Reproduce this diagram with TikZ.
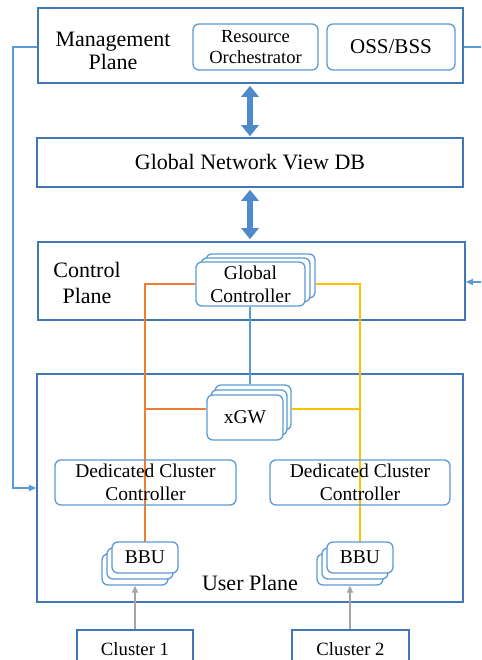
\documentclass[tikz,border=0pt]{standalone}
\usepackage{fontspec}
\setmainfont{Liberation Serif}
\usetikzlibrary{arrows.meta,calc}
\definecolor{planeblue}{HTML}{4177B5}
\definecolor{boxblue}{HTML}{5B9BD5}
\definecolor{linkblue}{HTML}{5B9BD5}
\definecolor{arrowfill}{HTML}{4F8BCB}
\definecolor{linkorange}{HTML}{ED7D31}
\definecolor{linkyellow}{HTML}{FFC000}
\definecolor{linkgrey}{HTML}{A5A5A5}
\tikzset{
  plane/.style={draw=planeblue, line width=1.6pt, fill=white, rectangle, inner sep=0pt},
  rbox/.style={draw=boxblue, line width=1.3pt, fill=white, rectangle, rounded corners=6pt, inner sep=0pt, align=center},
  big/.style={font=\fontsize{22}{23}\selectfont},
  mid/.style={font=\fontsize{19.5}{23}\selectfont},
  small/.style={font=\fontsize{18.5}{21}\selectfont},
  wire/.style={line width=1.3pt},
  bigarrow/.style={draw=arrowfill, line width=6.5pt,
    {Triangle[length=11pt,width=17pt]}-{Triangle[length=11pt,width=17pt]}},
  feed/.style={draw=linkblue, line width=1.3pt, -{Triangle[length=7pt,width=6pt]}},
  upin/.style={draw=linkgrey, line width=1.3pt, -{Triangle[length=7pt,width=6pt]}},
}
\begin{document}
\begin{tikzpicture}[x=1pt, y=-1pt]
\clip (0,0) rectangle (481,660);
\fill[white] (0,0) rectangle (481,660);

% ---- management plane ----
\node[plane, minimum width=425pt, minimum height=75pt] (mgmt) at (250.5,45.5) {};
\node[big, align=center] (mgmtlbl) at (113,51) {Management\\Plane};
\node[rbox, small, minimum width=125pt, minimum height=46pt] (orch) at (255.5,47) {Resource\\Orchestrator};
\node[rbox, big, font=\fontsize{21}{23}\selectfont, minimum width=128pt, minimum height=46pt] (oss) at (391,47) {OSS/BSS};

% ---- global network view database ----
\node[plane, big, minimum width=426pt, minimum height=49pt] (db) at (250,162.5) {Global Network View DB};

% ---- control plane ----
\node[plane, minimum width=427pt, minimum height=78pt] (ctrl) at (251.5,281) {};
\node[big, align=center, font=\fontsize{22}{26}\selectfont] (ctrllbl) at (87,283) {Control\\Plane};

% ---- user plane ----
\node[plane, minimum width=426pt, minimum height=228pt] (user) at (250,488) {};
\node[big] (userlbl) at (250,583) {User Plane};

% ---- stacked global controllers ----
\node[rbox, minimum width=109pt, minimum height=44pt] (gc3) at (260.5,276) {};
\node[rbox, minimum width=109pt, minimum height=44pt] (gc2) at (255.5,280) {};
\node[rbox, mid, minimum width=109pt, minimum height=44pt] (gc) at (250.5,284) {Global\\Controller};

% ---- stacked gateways ----
\node[rbox, minimum width=76pt, minimum height=45pt] (gw3) at (253,407.5) {};
\node[rbox, minimum width=76pt, minimum height=45pt] (gw2) at (249,412.5) {};
\node[rbox, mid, minimum width=76pt, minimum height=45pt] (gw) at (245,417.5) {xGW};

% ---- links from the global controller ----
\draw[wire, linkorange] (gc.west) -- (145,284) coordinate (ol) -- (145,542) coordinate (ob);
\draw[wire, linkorange] (145,409) -- (gw.west |- 0,409);
\draw[wire, linkyellow] (gc3.east |- gc.east) -- (360,284) -- (360,542) coordinate (yb);
\draw[wire, linkyellow] (gw3.east |- 0,409) -- (360,409);
\draw[wire, linkblue] (gc.south -| 250,0) -- (gw3.north -| 250,0);

% ---- dedicated cluster controllers ----
\node[rbox, mid, fill=none, minimum width=181pt, minimum height=45pt] (dcc1) at (145.5,482.5) {Dedicated Cluster\\Controller};
\node[rbox, mid, fill=none, minimum width=180pt, minimum height=45pt] (dcc2) at (360,482.5) {Dedicated Cluster\\Controller};

% ---- stacked baseband units ----
\node[rbox, minimum width=66pt, minimum height=31pt] (bbu1c) at (135,569.5) {};
\node[rbox, minimum width=66pt, minimum height=31pt] (bbu1b) at (140,563.5) {};
\node[rbox, mid, minimum width=66pt, minimum height=31pt] (bbu1) at (145,557.5) {BBU};
\node[rbox, minimum width=66pt, minimum height=31pt] (bbu2c) at (350,569.5) {};
\node[rbox, minimum width=66pt, minimum height=31pt] (bbu2b) at (355,563.5) {};
\node[rbox, mid, minimum width=66pt, minimum height=31pt] (bbu2) at (360,557.5) {BBU};

% ---- radio clusters ----
\node[plane, small, font=\fontsize{18.7}{21}\selectfont, minimum width=116pt, minimum height=38pt] (cl1) at (135,649) {Cluster 1};
\node[plane, small, font=\fontsize{18.7}{21}\selectfont, minimum width=117pt, minimum height=38pt] (cl2) at (350.5,649) {Cluster 2};
\draw[upin] (cl1.north -| 135,0) -- (bbu1c.south -| 135,0);
\draw[upin] (cl2.north -| 350,0) -- (bbu2c.south -| 350,0);

% ---- plane-to-plane exchanges ----
\draw[bigarrow] (mgmt.south -| 250,0) ++(0,2) -- ($(db.north -| 250,0)+(0,-1)$);
\draw[bigarrow] (db.south -| 250,0) ++(0,2) -- ($(ctrl.north -| 250,0)+(0,-2)$);

% ---- management feedback loops ----
\draw[feed] (mgmt.west |- 0,47) -- (13,47) -- (13,488) -- (user.west |- 0,488);
\draw[feed] (mgmt.east |- 0,47) -- (495,47) -- (495,282) -- (ctrl.east |- 0,282);
\end{tikzpicture}
\end{document}
